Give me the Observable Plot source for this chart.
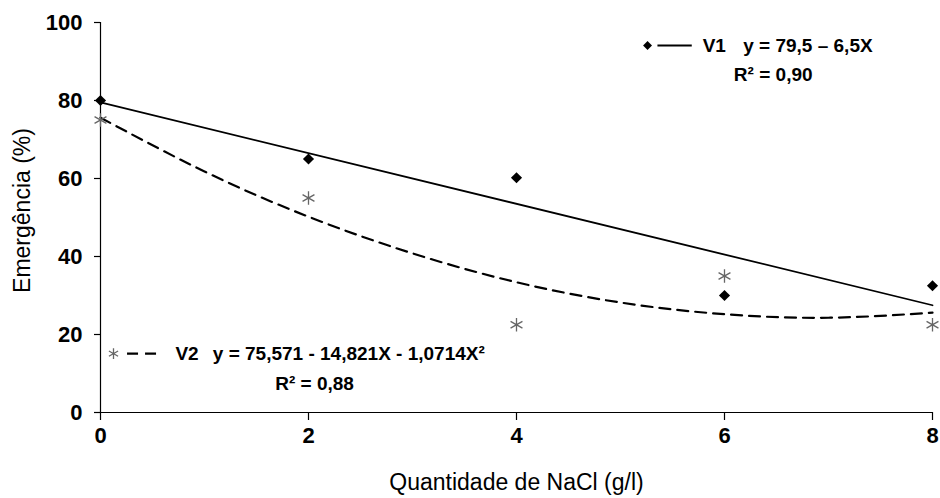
<!DOCTYPE html>
<html><head><meta charset="utf-8">
<script src="https://cdn.jsdelivr.net/npm/d3@7"></script>
<script src="https://cdn.jsdelivr.net/npm/@observablehq/plot@0.6"></script>
<style>body{margin:0;background:#fff}</style>
</head><body><div id="chart"></div>
<script>
// Data
const doses = [0, 2, 4, 6, 8];              // Quantidade de NaCl (g/l)
const v1 = [80, 65, 60.2, 30, 32.5];         // V1 observed emergence (%)
const v2 = [75, 55, 22.5, 35, 22.5];         // V2 observed emergence (%)
const v1TrendX = [0, 8];
const v1Trend = [79.5, 27.5];                // V1 linear trend
const v2TrendX = [0, 1, 2, 3, 4, 5, 6, 7, 8];
const v2Trend = [75.6, 61.8, 50.2, 40.8, 33.4, 28.2, 25.2, 24.3, 25.6];
const xTicks = [0, 2, 4, 6, 8];
const yTicks = [0, 20, 40, 60, 80, 100];
const v1Label = "V1", v1Eq = "y = 79,5 – 6,5X", v1R2 = "R² = 0,90";
const v2Label = "V2", v2Eq = "y = 75,571 - 14,821X - 1,0714X²", v2R2 = "R² = 0,88";
const xTitle = "Quantidade de NaCl (g/l)";
const yTitle = "Emergência (%)";

const obs1 = doses.map((d, i) => ({x: d, y: v1[i]}));
const obs2 = doses.map((d, i) => ({x: d, y: v2[i]}));
const t1 = v1TrendX.map((d, i) => ({x: d, y: v1Trend[i]}));
const t2 = v2TrendX.map((d, i) => ({x: d, y: v2Trend[i]}));

const font = "'Liberation Sans', Arial, sans-serif";
const chart = Plot.plot({
  width: 940, height: 498,
  marginLeft: 100, marginRight: 8, marginTop: 22, marginBottom: 86,
  style: {fontFamily: font, background: "#fff", color: "#000"},
  x: {domain: [0, 8]},
  y: {domain: [0, 100]},
  marks: [
    Plot.ruleY([0], {stroke: "#000", strokeWidth: 1.2}),
    Plot.ruleX([0], {y1: 0, y2: 100, stroke: "#000", strokeWidth: 1.2}),
    Plot.axisX(xTicks, {tickSize: 8, tickPadding: 7, fontSize: 22, fontWeight: "bold", label: null, stroke: "#000", strokeWidth: 1.2}),
    Plot.axisY(yTicks, {tickSize: 6, tickPadding: 12, fontSize: 22, fontWeight: "bold", label: null, stroke: "#000", strokeWidth: 1.2}),
    Plot.text([yTitle], {frameAnchor: "left", textAnchor: "middle", dx: -78, dy: -7, rotate: -90, fontSize: 23, lineAnchor: "middle", fill: "#000"}),
    Plot.text([xTitle], {frameAnchor: "bottom", textAnchor: "middle", dy: 70, fontSize: 23, lineAnchor: "middle", fill: "#000"}),
    // trend lines
    Plot.line(t1, {x: "x", y: "y", stroke: "#000", strokeWidth: 1.8}),
    Plot.line(t2, {x: "x", y: "y", stroke: "#000", strokeWidth: 2.2, strokeDasharray: "11,7", curve: "natural"}),
    // observed points
    Plot.dot(obs2, {x: "x", y: "y", symbol: "asterisk", r: 6.5, stroke: "#666", strokeWidth: 1.3}),
    Plot.dot(obs1, {x: "x", y: "y", symbol: "diamond2", r: 5, fill: "#000", stroke: "none"}),
    // legend V1
    Plot.dot([0], {x: 5.26, y: 94.1, symbol: "diamond2", r: 4, fill: "#000"}),
    Plot.ruleY([94.1], {x1: 5.36, x2: 5.69, stroke: "#000", strokeWidth: 1.8}),
    Plot.text([v1Label], {x: 5.79, y: 94.1, textAnchor: "start", fontSize: 19, fontWeight: "bold"}),
    Plot.text([v1Eq], {x: 6.18, y: 94.1, textAnchor: "start", fontSize: 19, fontWeight: "bold"}),
    Plot.text([v1R2], {x: 6.09, y: 86.5, textAnchor: "start", fontSize: 19, fontWeight: "bold"}),
    // legend V2
    Plot.dot([0], {x: 0.125, y: 15.1, symbol: "asterisk", r: 5, stroke: "#666", strokeWidth: 1.3}),
    Plot.ruleY([15.1], {x1: 0.26, x2: 0.58, stroke: "#000", strokeWidth: 2.2, strokeDasharray: "11,7"}),
    Plot.text([v2Label], {x: 0.72, y: 15.1, textAnchor: "start", fontSize: 19, fontWeight: "bold"}),
    Plot.text([v2Eq], {x: 1.08, y: 15.1, textAnchor: "start", fontSize: 19, fontWeight: "bold"}),
    Plot.text([v2R2], {x: 1.68, y: 7.4, textAnchor: "start", fontSize: 19, fontWeight: "bold"})
  ]
});
document.getElementById("chart").appendChild(chart);
</script>
</body></html>
